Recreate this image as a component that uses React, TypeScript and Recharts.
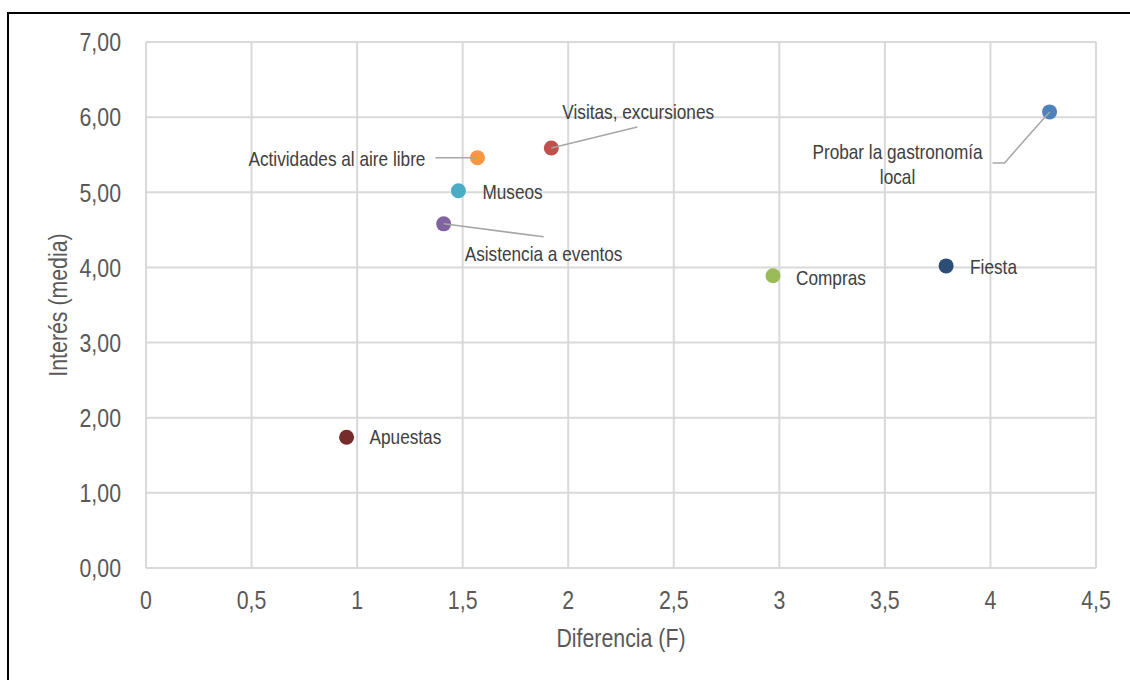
import React from 'react';
import { ScatterChart, Scatter, XAxis, YAxis, CartesianGrid } from 'recharts';

const names = [
    'Probar la gastronomía local',
    'Fiesta',
    'Compras',
    'Visitas, excursiones',
    'Actividades al aire libre',
    'Museos',
    'Asistencia a eventos',
    'Apuestas',
];
const diferencia = [4.28, 3.79, 2.97, 1.92, 1.57, 1.48, 1.41, 0.95];
const interes = [6.07, 4.02, 3.89, 5.59, 5.46, 5.02, 4.58, 1.74];
const colors = ['#4f81bd', '#2c4d75', '#9bbb59', '#c0504d', '#f79646', '#4bacc6', '#8064a2', '#772c2a'];

const xTicks = [0, 0.5, 1, 1.5, 2, 2.5, 3, 3.5, 4, 4.5];
const yTicks = [0, 1, 2, 3, 4, 5, 6, 7];

// label placement relative to the dot (pixels), like Excel's dragged data labels
type LabelPos = { dx: number; dy: number; anchor: 'start' | 'middle' | 'end'; lines?: string[]; leader?: number[][] };
const labelPos: LabelPos[] = [
    { dx: -152, dy: 40, anchor: 'middle', lines: ['Probar la gastronomía', 'local'], leader: [[0, 0], [-45, 51], [-57, 51]] },
    { dx: 24, dy: 1, anchor: 'start' },
    { dx: 23, dy: 2, anchor: 'start' },
    { dx: 11, dy: -36, anchor: 'start', leader: [[0, 0], [86, -21]] },
    { dx: -52, dy: 1, anchor: 'end', leader: [[0, 0], [-42, 0]] },
    { dx: 24, dy: 1, anchor: 'start' },
    { dx: 21, dy: 30, anchor: 'start', leader: [[0, 0], [100, 13]] },
    { dx: 23, dy: 0, anchor: 'start' },
];

const points = names.map((name, i) => ({ name, x: diferencia[i], y: interes[i], color: colors[i], idx: i }));

// no Arial Narrow here, so squeeze Liberation Sans horizontally
const FONT = "'Liberation Sans', Arial, sans-serif";
const NARROW = 0.82;

const fmtY = (v: number) => v.toFixed(2).replace('.', ',');
const fmtX = (v: number) => String(v).replace('.', ',');

const NText = ({ x, y, anchor, size, color, rotate, baseline, children }: any) => (
    <text
        transform={`translate(${x},${y})${rotate ? ` rotate(${rotate})` : ''} scale(${NARROW},1)`}
        textAnchor={anchor}
        dominantBaseline={baseline || 'central'}
        fontSize={size}
        fill={color}
        fontFamily={FONT}
    >
        {children}
    </text>
);

const XTick = (props: any) => {
    const { x, y, payload } = props;
    return <NText x={x} y={y} anchor="middle" size={26} color="#595959" baseline="hanging">{fmtX(payload.value)}</NText>;
};

const YTick = (props: any) => {
    const { x, y, payload } = props;
    return <NText x={x} y={y} anchor="end" size={26} color="#595959">{fmtY(payload.value)}</NText>;
};

const Dot = (props: any) => {
    const { cx, cy, payload } = props;
    const pos = labelPos[payload.idx];
    const lines = pos.lines || [payload.name];
    return (
        <g>
            <circle cx={cx} cy={cy} r={7.5} fill={payload.color} />
            {pos.leader && (
                <polyline
                    points={pos.leader.map(p => `${cx + p[0]},${cy + p[1]}`).join(' ')}
                    fill="none"
                    stroke="#a6a6a6"
                    strokeWidth={1.5}
                />
            )}
            {lines.map((l, k) => (
                <NText key={k} x={cx + pos.dx} y={cy + pos.dy + k * 25} anchor={pos.anchor} size={21} color="#404040">
                    {l}
                </NText>
            ))}
        </g>
    );
};

const App: React.FC = () => {
    return (
        <div
            style={{
                position: 'fixed',
                left: 7,
                top: 12,
                right: 0,
                bottom: 0,
                borderTop: '2px solid #000',
                borderLeft: '2px solid #000',
                background: '#fff',
            }}
        >
            <ScatterChart width={1121} height={650} margin={{ top: 28, right: 34, left: 0, bottom: 0 }}>
                <CartesianGrid stroke="#d9d9d9" strokeWidth={2} />
                <XAxis
                    type="number"
                    dataKey="x"
                    domain={[0, 4.5]}
                    ticks={xTicks}
                    axisLine={false}
                    tickLine={false}
                    tickSize={0}
                    tickMargin={22}
                    height={96}
                    tick={<XTick />}
                    label={{
                        content: (p: any) => {
                            const vb = p.viewBox;
                            return <NText x={vb.x + vb.width / 2} y={vb.y + 70} anchor="middle" size={26} color="#595959">Diferencia (F)</NText>;
                        },
                    }}
                />
                <YAxis
                    type="number"
                    dataKey="y"
                    domain={[0, 7]}
                    ticks={yTicks}
                    axisLine={false}
                    tickLine={false}
                    tickSize={0}
                    tickMargin={25}
                    width={137}
                    tick={<YTick />}
                    label={{
                        content: (p: any) => {
                            const vb = p.viewBox;
                            return <NText x={vb.x + 49} y={vb.y + vb.height / 2} rotate={-90} anchor="middle" size={26} color="#595959">Interés (media)</NText>;
                        },
                    }}
                />
                <Scatter data={points} shape={Dot} isAnimationActive={false} />
            </ScatterChart>
        </div>
    );
};

export default App;
